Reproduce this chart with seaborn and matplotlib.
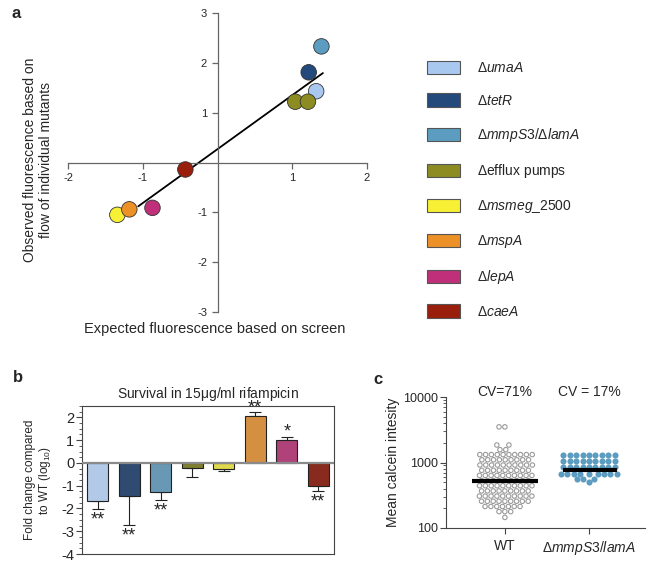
import numpy as np
import pandas as pd
import matplotlib.pyplot as plt
import seaborn as sns
from matplotlib.patches import Patch
from matplotlib.ticker import MultipleLocator

sns.set_style('ticks')
plt.rcParams['font.family'] = ['Liberation Sans', 'DejaVu Sans']
plt.rcParams['mathtext.fontset'] = 'custom'
plt.rcParams['mathtext.rm'] = 'Liberation Sans'
plt.rcParams['mathtext.it'] = 'Liberation Sans:italic'
plt.rcParams['mathtext.bf'] = 'Liberation Sans:bold'
plt.rcParams['axes.unicode_minus'] = False

# strains, in legend / bar order
strains = ['umaA', 'tetR', 'mmpS3/lamA', 'efflux', 'msmeg_2500', 'mspA', 'lepA', 'caeA']
strain_labels = [r'$\Delta\mathit{umaA}$', r'$\Delta\mathit{tetR}$',
                 r'$\Delta\mathit{mmpS3/}\Delta\mathit{lamA}$', r'$\Delta$efflux pumps',
                 r'$\Delta\mathit{msmeg\_2500}$', r'$\Delta\mathit{mspA}$',
                 r'$\Delta\mathit{lepA}$', r'$\Delta\mathit{caeA}$']
strain_colors = ['#a9c8f0', '#244a7c', '#5b9cc0', '#8c8c22',
                 '#f8f034', '#ec9128', '#c0307a', '#9a1e0c']

# panel a: expected vs observed fluorescence
point_strain = ['umaA', 'tetR', 'mmpS3/lamA', 'efflux', 'efflux',
                'msmeg_2500', 'mspA', 'lepA', 'caeA']
expected = [1.32, 1.22, 1.39, 1.04, 1.21, -1.34, -1.18, -0.87, -0.43]
observed = [1.43, 1.81, 2.33, 1.22, 1.22, -1.05, -0.94, -0.91, -0.14]
fit_range = [-1.06, 1.41]

# panel b: survival in rifampicin (log10 fold change vs WT)
survival = [-1.69, -1.44, -1.28, -0.24, -0.25, 2.04, 1.00, -1.03]
survival_err = [0.32, 1.28, 0.34, 0.38, 0.12, 0.18, 0.15, 0.21]
signif = ['**', '**', '**', '', '', '**', '*', '**']

# panel c: calcein intensity per cell (value levels and number of cells)
groups = ['WT', r'$\Delta\mathit{mmpS3/lamA}$']
wt_levels = [3500, 1850, 1570, 1320, 1100, 915, 760, 635, 530, 442, 368, 307, 256, 213, 178, 145]
wt_counts = [2, 2, 2, 10, 9, 10, 9, 10, 9, 10, 9, 10, 9, 7, 3, 1]
mut_levels = [1300, 1045, 840, 675, 560, 500]
mut_counts = [9, 9, 9, 9, 3, 1]
group_means = [520, 760]
cv_labels = ['CV=71%', 'CV = 17%']

W, H = 655, 568
fig = plt.figure(figsize=(W / 100, H / 100), dpi=100)

def box(l, t, r, b):
    return [l / W, 1 - b / H, (r - l) / W, (b - t) / H]

axcol = '#666666'

# ---------------- panel a ----------------
ax_a = fig.add_axes(box(68, 13, 367, 312))
df_a = pd.DataFrame({'x': expected, 'y': observed, 'strain': point_strain})
coef = np.polyfit(expected, observed, 1)
ax_a.plot(fit_range, np.polyval(coef, fit_range), color='black', lw=1.3, zorder=2)
sns.scatterplot(data=df_a, x='x', y='y', hue='strain', palette=dict(zip(strains, strain_colors)),
                s=125, edgecolor='#333333', linewidth=0.6, legend=False, zorder=3, ax=ax_a)
ax_a.set_xlim(-2, 2)
ax_a.set_ylim(-3, 3)
ax_a.spines['left'].set_position(('data', 0))
ax_a.spines['bottom'].set_position(('data', 0))
ax_a.spines['top'].set_visible(False)
ax_a.spines['right'].set_visible(False)
for s in ['left', 'bottom']:
    ax_a.spines[s].set_color(axcol)
    ax_a.spines[s].set_linewidth(0.9)
ax_a.set_xticks([-2, -1, 1, 2])
ax_a.set_yticks([-3, -2, -1, 1, 2, 3])
ax_a.tick_params(direction='out', length=4, color=axcol, labelsize=8, width=0.9)
ax_a.set_xlabel('')
ax_a.set_ylabel('')
fig.text(215 / W, 1 - 329 / H, 'Expected fluorescence based on screen',
         ha='center', va='center', fontsize=10.5)
fig.text(38 / W, 1 - 160 / H, 'Observed fluorescence based on\nflow of individual mutants',
         ha='center', va='center', rotation=90, fontsize=10, linespacing=1.1)
fig.text(12 / W, 1 - 14 / H, 'a', fontsize=12, fontweight='bold', va='center')

handles = [Patch(facecolor=c, edgecolor='#555555', linewidth=0.8) for c in strain_colors]
fig.legend(handles, strain_labels, loc='upper left', bbox_to_anchor=(427 / W, 1 - 61 / H),
           frameon=False, fontsize=10, handlelength=2.4, handleheight=1.1,
           labelspacing=1.3, handletextpad=1.2, borderpad=0, borderaxespad=0)

# ---------------- panel b ----------------
ax_b = fig.add_axes(box(82, 406, 334, 554))
df_b = pd.DataFrame({'strain': strains, 'survival': survival})
sns.barplot(data=df_b, x='strain', y='survival', hue='strain', palette=strain_colors,
            order=strains, hue_order=strains, legend=False, errorbar=None, width=0.66,
            edgecolor='#222222', linewidth=0.8, zorder=2, ax=ax_b)
vals = np.array(survival)
errs = np.array(survival_err)
lower = np.where(vals < 0, errs, 0)
upper = np.where(vals > 0, errs, 0)
xpos = np.arange(len(strains))
ax_b.errorbar(xpos, vals, yerr=[lower, upper], fmt='none', ecolor='#222222',
              elinewidth=0.8, capsize=4, capthick=0.8, zorder=1)
ax_b.axhline(0, color='#8a8a8a', lw=1.6, zorder=3)
star_fs = 13
for i, lab in enumerate(signif):
    if not lab:
        continue
    if vals[i] < 0:
        cap = vals[i] - errs[i]
        off = -2.0 - 0.72 * star_fs
    else:
        cap = vals[i] + errs[i]
        off = 0.0
    ax_b.annotate(lab, (i, cap), xytext=(0, off), textcoords='offset points',
                  ha='center', va='baseline', fontsize=star_fs)
ax_b.set_xlim(-0.5, 7.5)
ax_b.set_ylim(-4, 2.5)
ax_b.set_yticks(range(-4, 3))
ax_b.yaxis.set_minor_locator(MultipleLocator(0.25))
ax_b.set_xticks([])
ax_b.tick_params(axis='y', which='major', direction='out', length=4, labelsize=10.5,
                 color='#444444', pad=1.5)
ax_b.tick_params(axis='y', which='minor', direction='out', length=2.5, color='#444444')
for s in ax_b.spines.values():
    s.set_color('#444444')
    s.set_linewidth(0.8)
ax_b.set_xlabel('')
ax_b.set_ylabel('Fold change compared\nto WT (log$_{10}$)', fontsize=8.5, linespacing=1.1)
ax_b.yaxis.set_label_coords(-0.115, 0.5)
ax_b.set_title(r'Survival in 15$\mathrm{\mu}$g/ml rifampicin', fontsize=10, pad=6)
fig.text(13 / W, 1 - 378 / H, 'b', fontsize=12, fontweight='bold', va='center')

# ---------------- panel c ----------------
ax_c = fig.add_axes(box(446, 397, 645, 528))
df_wt = pd.DataFrame({'group': groups[0], 'val': np.repeat(wt_levels, wt_counts)})
df_mut = pd.DataFrame({'group': groups[1], 'val': np.repeat(mut_levels, mut_counts)})
n_before = len(ax_c.collections)
sns.swarmplot(data=df_wt, x='group', y='val', order=groups, color='#9a9a9a',
              size=3.2, linewidth=0.8, edgecolor='#9a9a9a', log_scale=True, ax=ax_c)
for coll in ax_c.collections[n_before:]:
    coll.set_facecolor('none')
sns.swarmplot(data=df_mut, x='group', y='val', order=groups, color='#5b9cc0',
              size=4.4, linewidth=0, log_scale=True, ax=ax_c)
ax_c.hlines(group_means[0], -0.39, 0.39, color='black', lw=3, zorder=5)
ax_c.hlines(group_means[1], 1 - 0.31, 1 + 0.33, color='black', lw=3, zorder=5)
ax_c.set_xlim(-0.70, 1.667)
ax_c.set_ylim(100, 10000)
ax_c.set_yticks([100, 1000, 10000])
ax_c.set_yticklabels(['100', '1000', '10000'])
sns.despine(ax=ax_c)
for s in ['left', 'bottom']:
    ax_c.spines[s].set_color('#444444')
    ax_c.spines[s].set_linewidth(0.8)
ax_c.tick_params(axis='both', which='major', direction='out', length=4, labelsize=9,
                 color='#444444', pad=2)
ax_c.tick_params(axis='x', labelsize=10, pad=4)
ax_c.tick_params(axis='y', which='minor', direction='out', length=2.5, color='#444444')
ax_c.set_xlabel('')
ax_c.set_ylabel('Mean calcein intesity', fontsize=10)
ax_c.yaxis.set_label_coords(-0.231, 0.5)
for i, lab in enumerate(cv_labels):
    ax_c.text(i, 1.04, lab, transform=ax_c.get_xaxis_transform(), ha='center',
              va='center', fontsize=10)
fig.text(373 / W, 1 - 380 / H, 'c', fontsize=12, fontweight='bold', va='center')

fig.savefig('out.png', dpi=100)
